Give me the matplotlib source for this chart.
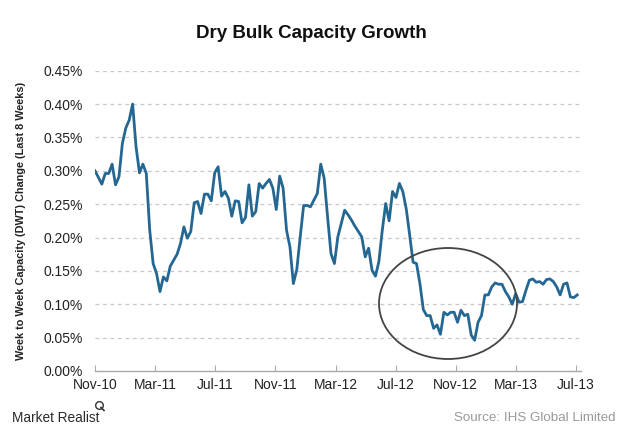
import numpy as np
import matplotlib
matplotlib.use("Agg")
import matplotlib.pyplot as plt
from matplotlib.patches import Ellipse
from matplotlib.lines import Line2D

# ---- data (weekly readings, % change) ----
values = [
    0.300, 0.290, 0.280, 0.296, 0.296, 0.310, 0.279, 0.291, 0.341, 0.364,
    0.376, 0.400, 0.336, 0.297, 0.310, 0.296, 0.211, 0.161, 0.146, 0.119,
    0.141, 0.135, 0.157, 0.166, 0.175, 0.191, 0.216, 0.199, 0.209, 0.252,
    0.254, 0.236, 0.265, 0.265, 0.255, 0.297, 0.306, 0.262, 0.269, 0.259,
    0.232, 0.255, 0.254, 0.222, 0.230, 0.279, 0.232, 0.239, 0.281, 0.274,
    0.281, 0.287, 0.274, 0.242, 0.292, 0.274, 0.211, 0.186, 0.131, 0.152,
    0.201, 0.248, 0.248, 0.246, 0.256, 0.266, 0.310, 0.289, 0.231, 0.176,
    0.161, 0.201, 0.221, 0.241, 0.234, 0.226, 0.217, 0.209, 0.201, 0.171,
    0.184, 0.151, 0.142, 0.164, 0.211, 0.251, 0.225, 0.269, 0.260, 0.281,
    0.269, 0.243, 0.204, 0.163, 0.161, 0.131, 0.092, 0.083, 0.083, 0.064,
    0.069, 0.055, 0.088, 0.084, 0.088, 0.088, 0.073, 0.091, 0.083, 0.085,
    0.054, 0.046, 0.073, 0.083, 0.114, 0.114, 0.126, 0.132, 0.130, 0.130,
    0.119, 0.111, 0.100, 0.116, 0.103, 0.104, 0.121, 0.136, 0.138, 0.133,
    0.134, 0.130, 0.137, 0.138, 0.134, 0.126, 0.114, 0.130, 0.132, 0.111,
    0.110, 0.114,
]
tick_labels = ["Nov-10", "Mar-11", "Jul-11", "Nov-11", "Mar-12",
               "Jul-12", "Nov-12", "Mar-13", "Jul-13"]
tick_months = [0, 4, 8, 12, 16, 20, 24, 28, 32]   # months since Nov-10
y_ticks = [0.00, 0.05, 0.10, 0.15, 0.20, 0.25, 0.30, 0.35, 0.40, 0.45]

first_month, last_month = 0.0, 32.08
x = np.linspace(first_month, last_month, len(values))

plt.rcParams['font.family'] = ['Liberation Sans', 'DejaVu Sans']

fig = plt.figure(figsize=(6.2, 4.32), dpi=100)
ax = fig.add_axes([95/620, 61/432, (581-95)/620, (371-70.7)/432])

ax.plot(x, values, color='#246793', lw=2.0, solid_joinstyle='round', zorder=3)

ax.set_xlim(0, 32.33)
ax.set_ylim(0, 0.45)
ax.set_yticks(y_ticks)
ax.set_yticklabels([f"{v:.2f}%" for v in y_ticks], fontsize=10, color='#222222')
ax.set_xticks(tick_months)
ax.set_xticklabels(tick_labels, fontsize=10, color='#222222')
ax.tick_params(axis='y', length=0, pad=9)
ax.tick_params(axis='x', direction='in', length=4, color='#aaaaaa', pad=5)

for v in y_ticks[1:]:
    ax.axhline(v, color='#c8c8c8', lw=0.9, ls=(0, (3, 3)), zorder=1)

for s in ['top', 'right', 'left']:
    ax.spines[s].set_visible(False)
ax.spines['bottom'].set_color('#aaaaaa')
ax.spines['bottom'].set_linewidth(1.0)

ax.set_ylabel("Week to Week Capacity (DWT) Change (Last 8 Weeks)",
              fontsize=7.8, fontweight='bold', color='#222222', labelpad=12)

# annotation ellipse
ell = Ellipse((448/620, 1 - 303.5/432), 138/620, 111/432, transform=fig.transFigure,
              fill=False, edgecolor='#444444', lw=1.3, zorder=5)
fig.patches.append(ell)

fig.text(0.502, 1 - 33/432, "Dry Bulk Capacity Growth", ha='center', va='center',
         fontsize=13.5, fontweight='bold', color='#111111')

fig.text(12/620, 1 - 418/432, "Market Realist", ha='left', va='center',
         fontsize=9.8, color='#2a2a2a')
# magnifier mark
fig.lines.append(Line2D([99/620], [1 - 405/432], transform=fig.transFigure,
                        marker='o', ms=5.5, mfc='none', mec='#333333', mew=1.0, ls='none'))
fig.lines.append(Line2D([101/620, 104/620], [1 - 407.5/432, 1 - 410.5/432],
                        transform=fig.transFigure, color='#333333', lw=1.2))

fig.text(616/620, 1 - 418/432, "Source: IHS Global Limited", ha='right', va='center',
         fontsize=9.6, color='#999999')

fig.savefig("out.png", dpi=100)
